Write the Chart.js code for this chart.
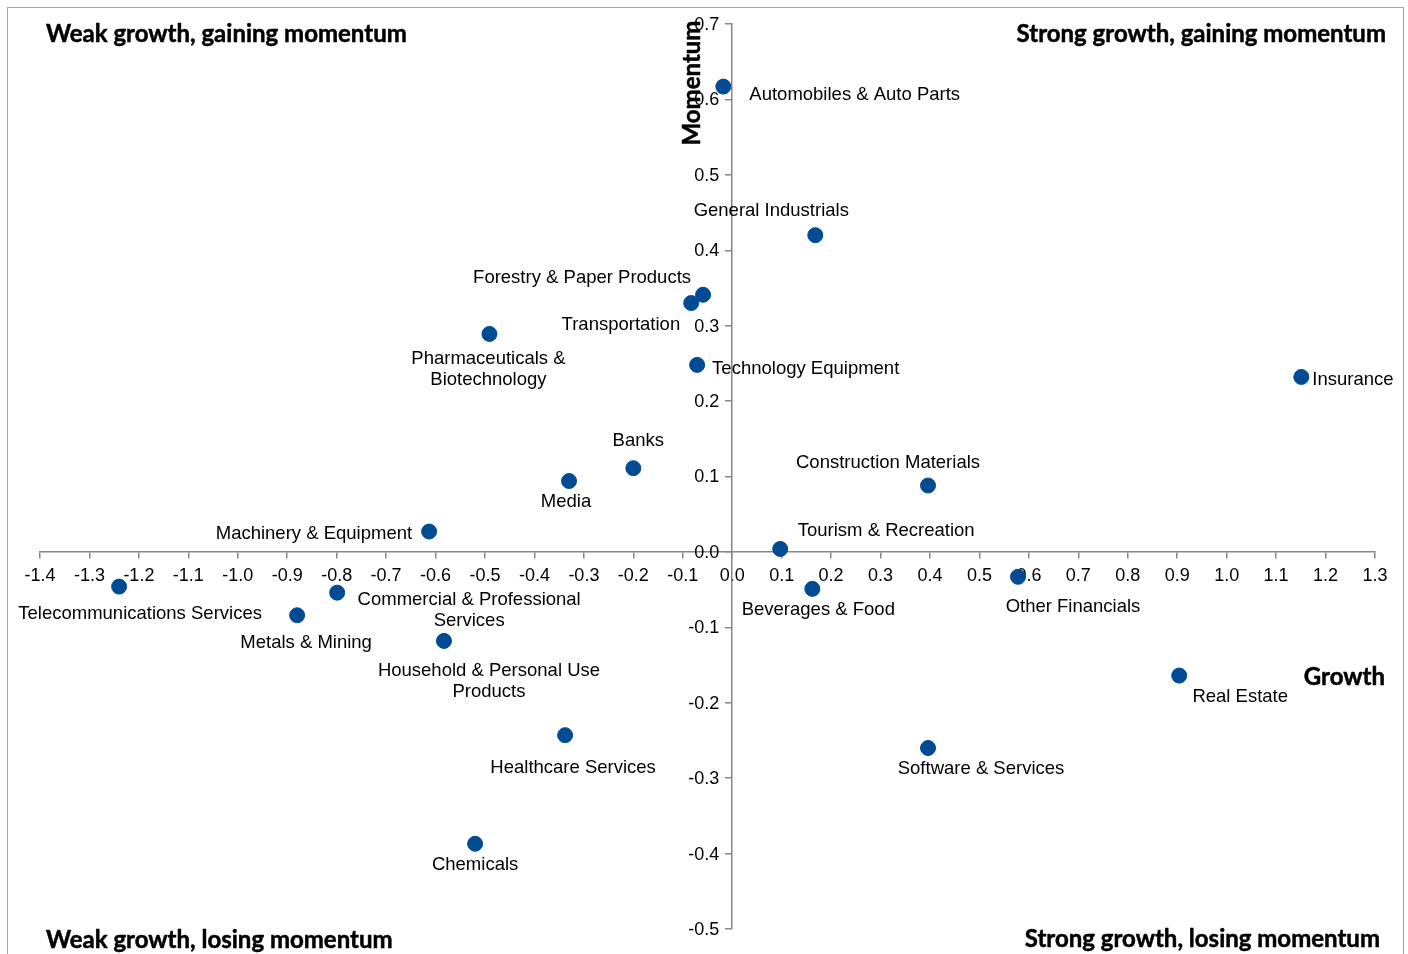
<!DOCTYPE html>
<html>
<head>
<meta charset="utf-8">
<script src="https://cdn.jsdelivr.net/npm/chart.js@4/dist/chart.umd.min.js"></script>
<style>
html,body{margin:0;padding:0;background:#fff;}
#wrap{position:relative;width:1408px;height:954px;}
#frame{position:absolute;left:7px;top:7px;width:1397px;height:960px;border:1px solid #a6a6a6;box-sizing:border-box;}
canvas{position:absolute;left:0;top:0;}
</style>
</head>
<body>
<div id="wrap"><div id="frame"></div><canvas id="c" width="1408" height="954"></canvas></div>
<script>
// ---- data ----
const sectors = [
  "Automobiles & Auto Parts", "General Industrials", "Forestry & Paper Products", "Transportation",
  "Pharmaceuticals &\nBiotechnology", "Technology Equipment", "Insurance", "Banks", "Media",
  "Construction Materials", "Machinery & Equipment", "Tourism & Recreation", "Telecommunications Services",
  "Commercial & Professional\nServices", "Beverages & Food", "Other Financials", "Metals & Mining",
  "Household & Personal Use\nProducts", "Real Estate", "Healthcare Services", "Software & Services", "Chemicals"
];
const growth = [-0.018, 0.168, -0.059, -0.083, -0.491, -0.071, 1.151, -0.200, -0.330, 0.396, -0.613, 0.097,
  -1.240, -0.799, 0.162, 0.578, -0.880, -0.583, 0.904, -0.338, 0.396, -0.520];
const momentum = [0.617, 0.420, 0.341, 0.330, 0.289, 0.248, 0.232, 0.111, 0.094, 0.088, 0.027, 0.004,
  -0.046, -0.054, -0.049, -0.033, -0.084, -0.118, -0.164, -0.243, -0.260, -0.387];
const quadrantTitles = ["Weak growth, gaining momentum", "Strong growth, gaining momentum",
  "Weak growth, losing momentum", "Strong growth, losing momentum"];
const xTitle = "Growth";
const yTitle = "Momentum";

// ---- label placement (pixel offsets from the point, alignment) ----
const labelPlacement = [
  [26, 7, 'left'], [-44, -26, 'center'], [-12, -18, 'right'], [-11, 20, 'right'],
  [-1, 23, 'center'], [15, 3, 'left'], [11, 1, 'left'], [5, -29, 'center'], [-3, 19, 'center'],
  [-40, -24, 'center'], [-17, 1, 'right'], [106, -19, 'center'], [21, 26, 'center'],
  [132, 6, 'center'], [6, 20, 'center'], [55, 29, 'center'], [9, 26, 'center'],
  [45, 28, 'center'], [61, 20, 'center'], [8, 31, 'center'], [53, 19, 'center'], [0, 20, 'center']
];

const points = growth.map((g, i) => ({x: g, y: momentum[i]}));
const SANS = '"Liberation Sans", Arial, sans-serif';
const LABEL_FONT = '18.5px ' + SANS;
const TICK_FONT = '18px ' + SANS;
const BOLD_FONT = 'bold 24px Lato, "Open Sans", sans-serif';
const fmt = v => (Math.abs(v) < 1e-9 ? 0 : v).toFixed(1);

const overlay = {
  id: 'overlay',
  afterDatasetsDraw(chart) {
    const ctx = chart.ctx;
    const meta = chart.getDatasetMeta(0);
    ctx.save();
    ctx.fillStyle = '#000';
    ctx.font = LABEL_FONT;
    ctx.textBaseline = 'middle';
    meta.data.forEach((el, i) => {
      const [dx, dy, align] = labelPlacement[i];
      ctx.textAlign = align;
      const lines = sectors[i].split('\n');
      lines.forEach((ln, k) => ctx.fillText(ln, el.x + dx, el.y + dy + 1.5 + k * 21));
    });
    ctx.restore();
  },
  afterDraw(chart) {
    const ctx = chart.ctx;
    const xs = chart.scales.x, ys = chart.scales.y;
    ctx.save();
    // y tick labels
    ctx.fillStyle = '#000';
    ctx.font = TICK_FONT;
    ctx.textBaseline = 'middle';
    ctx.textAlign = 'right';
    const x0 = xs.getPixelForValue(0);
    ys.ticks.forEach(t => ctx.fillText(fmt(t.value), x0 - 13, ys.getPixelForValue(t.value) + 1));
    // titles
    ctx.font = BOLD_FONT;
    ctx.strokeStyle = '#000';
    ctx.lineWidth = 0.5;
    const bold = (txt, x, y) => { ctx.fillText(txt, x, y); ctx.strokeText(txt, x, y); };
    ctx.textAlign = 'left';
    bold(quadrantTitles[0], 46, 34);
    bold(quadrantTitles[2], 46, 940);
    ctx.textAlign = 'right';
    bold(quadrantTitles[1], 1386, 34);
    bold(quadrantTitles[3], 1380, 939);
    bold(xTitle, 1385, 677);
    ctx.translate(692, 83);
    ctx.rotate(-Math.PI / 2);
    ctx.textAlign = 'center';
    bold(yTitle, 0, 0);
    ctx.restore();
  }
};

new Chart(document.getElementById('c'), {
  type: 'scatter',
  data: {
    datasets: [{
      data: points,
      backgroundColor: '#004B93',
      borderColor: '#004B93',
      pointRadius: 7.5,
      pointHoverRadius: 7.5
    }]
  },
  options: {
    responsive: false,
    animation: false,
    events: [],
    layout: {padding: {left: 40, right: 33, top: 24, bottom: 25}},
    plugins: {legend: {display: false}, tooltip: {enabled: false}},
    scales: {
      x: {
        type: 'linear',
        min: -1.4, max: 1.3,
        position: {y: 0},
        afterFit: s => { s.height = 0; },
        border: {color: '#868686', width: 1.5},
        grid: {drawOnChartArea: false, drawTicks: true, tickLength: 6, color: '#868686', lineWidth: 1.5},
        ticks: {
          stepSize: 0.1, padding: 7, color: '#000',
          font: {family: SANS, size: 18},
          callback: v => fmt(v),
          maxRotation: 0, autoSkip: false
        }
      },
      y: {
        type: 'linear',
        min: -0.5, max: 0.7,
        position: {x: 0},
        afterFit: s => { s.width = 0; },
        border: {color: '#868686', width: 1.5},
        grid: {drawOnChartArea: false, drawTicks: true, tickLength: 6, color: '#868686', lineWidth: 1.5},
        ticks: {
          stepSize: 0.1, display: false, autoSkip: false,
          font: {family: SANS, size: 18}
        }
      }
    }
  },
  plugins: [overlay]
});
</script>
</body>
</html>
